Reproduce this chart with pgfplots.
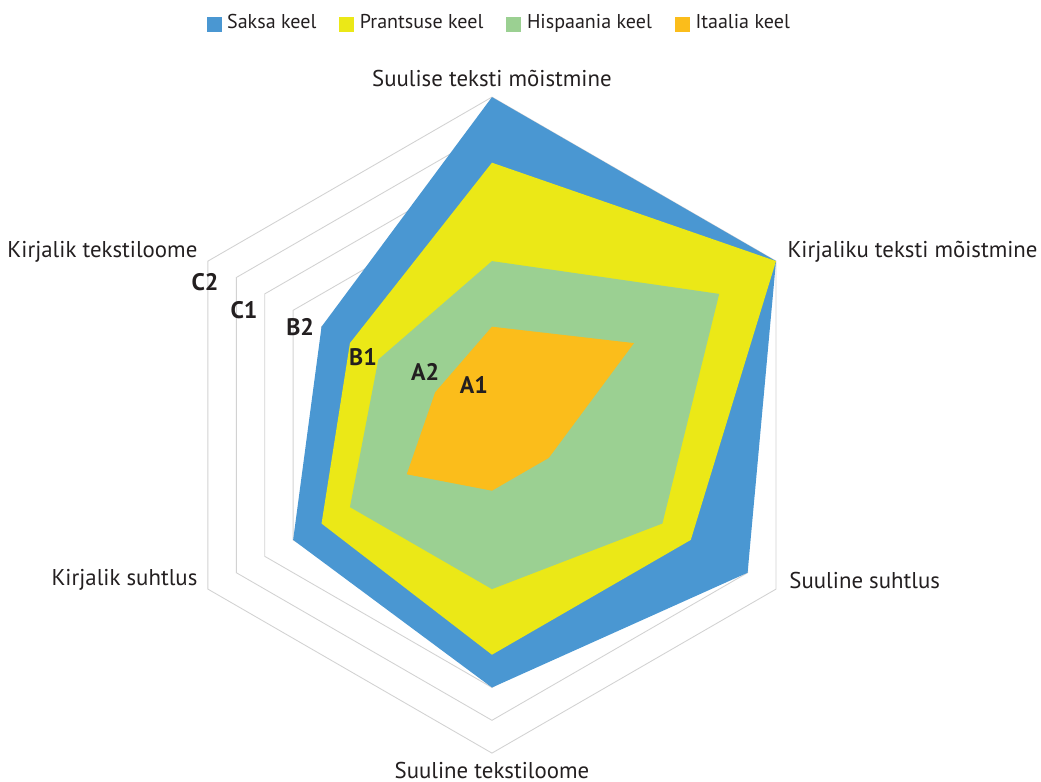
\documentclass[border=0pt]{standalone}
\usepackage{pgfplots}
\pgfplotsset{compat=1.18}
\usepackage{fontspec}
\setmainfont{PT Sans}
\definecolor{cblue}{HTML}{4A97D2}
\definecolor{cyellow}{HTML}{EBE817}
\definecolor{cgreen}{HTML}{9BD092}
\definecolor{corange}{HTML}{FBBD1B}
\definecolor{cgrid}{HTML}{D2D2D2}
\definecolor{ctext}{HTML}{231F20}
\begin{document}
\begin{tikzpicture}
\begin{axis}[
  hide axis, scale only axis, width=10.41cm, height=7.81cm,
  xmin=-15, xmax=16.74, ymin=-10.85, ymax=12.96,
  clip=false,
  legend columns=4,
  legend style={draw=none, fill=none, at={(0.482,0.969)}, anchor=center,
    font=\fontsize{5.7}{6.5}\selectfont\color{ctext}, inner sep=0pt,
    /tikz/every odd column/.append style={column sep=-0.015cm},
    /tikz/every even column/.append style={column sep=0.16cm}},
  legend image code/.code={\fill[#1] (0cm,-0.075cm) rectangle (0.15cm,0.075cm);},
]
% grid rings
\pgfplotsinvokeforeach{1,2,3,4,5,6,7,8,9,10}{
  \addplot[cgrid, line width=0.25pt, data cs=polar, forget plot] coordinates {(90,#1) (30,#1) (-30,#1) (-90,#1) (-150,#1) (150,#1) (90,#1)};
}
% Saksa keel
\addplot[fill=cblue, draw=none, data cs=polar, forget plot] coordinates {(90,10) (30,10) (-30,9) (-90,8) (-150,7) (150,6) (90,10)};
% Prantsuse keel
\addplot[fill=cyellow, draw=none, data cs=polar, forget plot] coordinates {(90,8) (30,10) (-30,7) (-90,7) (-150,6) (150,5) (90,8)};
% Hispaania keel
\addplot[fill=cgreen, draw=none, data cs=polar, forget plot] coordinates {(90,5) (30,8) (-30,6) (-90,5) (-150,5) (150,4) (90,5)};
% Itaalia keel
\addplot[fill=corange, draw=none, data cs=polar, forget plot] coordinates {(90,3) (30,5) (-30,2) (-90,2) (-150,3) (150,2) (90,3)};

\addlegendimage{fill=cblue, draw=none}\addlegendentry{Saksa keel}
\addlegendimage{fill=cyellow, draw=none}\addlegendentry{Prantsuse keel}
\addlegendimage{fill=cgreen, draw=none}\addlegendentry{Hispaania keel}
\addlegendimage{fill=corange, draw=none}\addlegendentry{Itaalia keel}

\tikzset{lab/.style={font=\fontsize{6.5}{7.5}\selectfont, text=ctext, inner sep=0pt},
         lev/.style={font=\fontsize{6.8}{7.5}\selectfont\bfseries, text=ctext, inner sep=0pt}}
\node[lab, anchor=center] at (axis cs:0,10.58) {Suulise teksti mõistmine};
\node[lab, anchor=west] at (axis cs:8.99,5.27) {Kirjaliku teksti mõistmine};
\node[lab, anchor=west] at (axis cs:9.05,-4.73) {Suuline suhtlus};
\node[lab, anchor=center] at (axis cs:0,-10.52) {Suuline tekstiloome};
\node[lab, anchor=east] at (axis cs:-8.96,-4.73) {Kirjalik suhtlus};
\node[lab, anchor=east] at (axis cs:-8.96,5.27) {Kirjalik tekstiloome};

\node[lev] at (axis cs:-8.75,4.36) {C2};
\node[lev] at (axis cs:-7.56,3.51) {C1};
\node[lev] at (axis cs:-5.85,2.99) {B2};
\node[lev] at (axis cs:-3.93,2.08) {B1};
\node[lev] at (axis cs:-2.04,1.62) {A2};
\node[lev] at (axis cs:-0.55,1.22) {A1};
\end{axis}
\pgfresetboundingbox
\path (current axis.south west) rectangle (current axis.north east);
\end{tikzpicture}
\end{document}
